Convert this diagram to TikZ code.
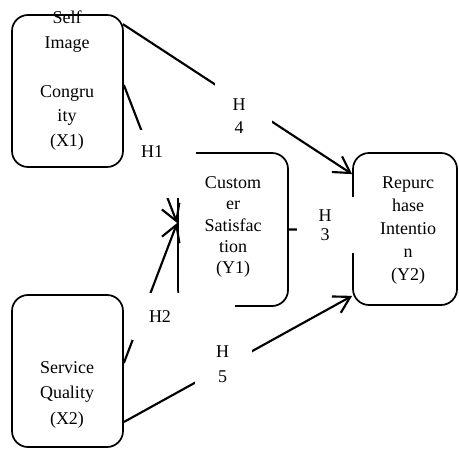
\documentclass[tikz,border=0pt]{standalone}
\usepackage{fontspec}
\setmainfont{Liberation Serif}
\usetikzlibrary{arrows.meta,calc}
\begin{document}
\begin{tikzpicture}[x=0.75pt,y=-0.75pt,
  box/.style={draw,line width=1.3pt,rounded corners=12pt,inner sep=0pt,minimum width=83.25pt,minimum height=114pt},
  txt/.style={align=center,inner sep=0pt,font=\fontsize{13.5}{#1}\selectfont},
  conn/.style={line width=1.6pt,-{Straight Barb[length=12pt,width=14pt,line width=1.6pt]}},
  mask/.style={fill=white}]
\useasboundingbox (0,0) rectangle (459,449);
% boxes
\node[box] (x1) at (67.5,91) {};
\node[box] (x2) at (67.5,371) {};
\node[box,minimum width=82.5pt,minimum height=114.75pt] (y1) at (233,229.5) {};
\node[box,minimum width=78pt] (y2) at (405,229) {};
% connectors
\draw[conn] ($(x1.north east)+(-1,10)$) -- ($(y2.north west)+(0,22)$);
\draw[conn] ($(x1.east)+(0,-6)$) -- ($(y1.west)+(0,-6.5)$);
\draw[conn] ($(x2.east)+(0,-8)$) -- ($(y1.west)+(0,-6.5)$);
\draw[conn] (y1.east) -- (y2.west);
\draw[conn] ($(x2.east)+(0,51)$) -- ($(y2.south west)+(0,-10)$);
% label backgrounds
\fill[mask] (135,130) rectangle (196,198);
\fill[mask] (132,293) rectangle (235,340);
\fill[mask] (297,197) rectangle (358,253);
\fill[mask] (215,80) rectangle (272,140);
\fill[mask] (195,335) rectangle (252,395);
% box texts
\node[txt=18.45pt] (tx1) at (67,80.5) {Self\\Image\\\mbox{}\\Congru\\ity\\(X1)};
\node[txt=16.1pt] (ty1) at (233,227) {Custom\\er\\Satisfac\\tion\\(Y1)};
\node[txt=17.4pt] (ty2) at (408,230.5) {Repurc\\hase\\Intentio\\n\\(Y2)};
\node[txt=19.1pt] (tx2) at (67,394.5) {Service\\Quality\\(X2)};
% hypothesis labels
\node[txt=18pt] (h1) at (152,152) {H1};
\node[txt=18pt] (h2) at (160,317) {H2};
\node[txt=14.25pt] (h3) at (325,225.5) {H\\3};
\node[txt=17.25pt] (h4) at (239,116.5) {H\\4};
\node[txt=18.75pt] (h5) at (222.5,364.5) {H\\5};
\end{tikzpicture}
\end{document}
